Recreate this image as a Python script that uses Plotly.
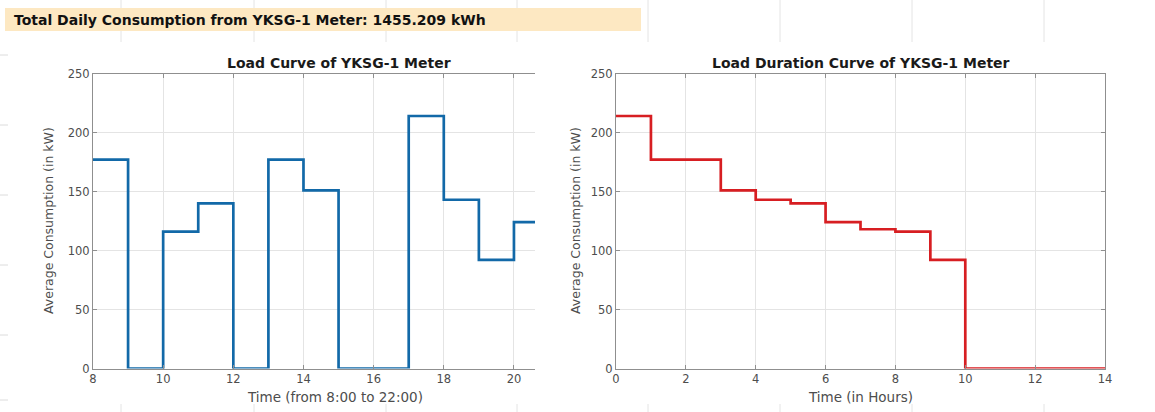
import plotly.graph_objects as go

# Hourly average demand of the YKSG-1 meter, 8:00 to 22:00 (kW)
hour_start = [8, 9, 10, 11, 12, 13, 14, 15, 16, 17, 18, 19, 20, 21]
load_kw = [177, 0, 116, 140, 0, 177, 151, 0, 0, 214, 143, 92, 124, 118]
total_kwh = 1455.209

# Duration curve: same hours, sorted from highest to lowest demand
duration_kw = sorted(load_kw, reverse=True)
duration_hours = list(range(len(duration_kw) + 1))

x_ticks_load = [8, 10, 12, 14, 16, 18, 20]
x_ticks_dur = [0, 2, 4, 6, 8, 10, 12, 14]
y_ticks = [0, 50, 100, 150, 200, 250]

W, H = 1155, 412
FONT = "DejaVu Sans, Verdana, sans-serif"
AXIS_GREY = "#4d4d4d"
BOX_GREY = "#8f8f8f"

# pixel geometry of the two axes boxes (left box is cut off on its right side)
L_X0, L_X1 = 93, 535
R_X0, R_X1 = 616, 1105
Y_TOP, Y_BOT = 73.5, 368.5
L_FULL_CENTER = 339   # centre of the full 8-22 h box, only part of which shows


def px_x(p):
    return p / W


def px_y(p):
    return 1 - p / H


fig = go.Figure()

# step traces: repeat the final value so the last hour gets its full width
fig.add_trace(go.Scatter(
    x=hour_start + [hour_start[-1] + 1], y=load_kw + [load_kw[-1]],
    mode="lines", line=dict(shape="hv", color="#1269A8", width=2.7),
    xaxis="x", yaxis="y", showlegend=False, hoverinfo="x+y"))

fig.add_trace(go.Scatter(
    x=duration_hours, y=duration_kw + [duration_kw[-1]],
    mode="lines", line=dict(shape="hv", color="#D71E22", width=2.7),
    xaxis="x2", yaxis="y2", showlegend=False, hoverinfo="x+y"))

axis_common = dict(
    showline=True, linecolor=BOX_GREY, linewidth=1,
    showgrid=True, gridcolor="#e4e4e4", gridwidth=1,
    ticks="inside", ticklen=4, tickcolor=BOX_GREY,
    tickfont=dict(family=FONT, size=11.5, color=AXIS_GREY),
    zeroline=False, fixedrange=True, automargin=False,
)

fig.update_layout(
    width=W, height=H, autosize=False,
    margin=dict(l=0, r=0, t=0, b=0, pad=0, autoexpand=False),
    paper_bgcolor="white", plot_bgcolor="white",
    font=dict(family=FONT),
    xaxis=dict(axis_common, domain=[px_x(L_X0), px_x(L_X1)], range=[8, 20.6],
               tickvals=x_ticks_load, anchor="y", mirror="ticks"),
    yaxis=dict(axis_common, domain=[px_y(Y_BOT), px_y(Y_TOP)], range=[0, 250],
               tickvals=y_ticks, anchor="x", mirror=False),
    xaxis2=dict(axis_common, domain=[px_x(R_X0), px_x(R_X1)], range=[0, 14],
                tickvals=x_ticks_dur, anchor="y2", mirror="ticks"),
    yaxis2=dict(axis_common, domain=[px_y(Y_BOT), px_y(Y_TOP)], range=[0, 250],
                tickvals=y_ticks, anchor="x2", mirror="ticks"),
)

shapes = []
# faint worksheet cell borders behind the charts
for xp in [121, 254, 386, 517, 648, 780, 912, 1044]:
    shapes.append(dict(type="line", xref="paper", yref="paper",
                       x0=px_x(xp), x1=px_x(xp), y0=px_y(0), y1=px_y(42),
                       line=dict(color="#e4e4e4", width=1), layer="below"))
    shapes.append(dict(type="line", xref="paper", yref="paper",
                       x0=px_x(xp), x1=px_x(xp), y0=px_y(404), y1=px_y(412),
                       line=dict(color="#e4e4e4", width=1), layer="below"))
for yp in [55, 125, 195, 265, 335, 400]:
    shapes.append(dict(type="line", xref="paper", yref="paper",
                       x0=0, x1=px_x(8), y0=px_y(yp), y1=px_y(yp),
                       line=dict(color="#dcdcdc", width=1), layer="below"))
# highlighted summary cell
shapes.append(dict(type="rect", xref="paper", yref="paper",
                   x0=px_x(5), x1=px_x(641), y0=px_y(31), y1=px_y(8),
                   fillcolor="#FDE8C2", line=dict(width=0), layer="below"))
fig.update_layout(shapes=shapes)

fig.add_annotation(
    xref="paper", yref="paper", x=px_x(12), y=px_y(20),
    xanchor="left", yanchor="middle", showarrow=False,
    text=f"<b>Total Daily Consumption from YKSG-1 Meter: {total_kwh:.3f} kWh</b>",
    font=dict(family=FONT, size=14, color="#111111"))

# chart titles
for title, xc in [("Load Curve of YKSG-1 Meter", L_FULL_CENTER),
                  ("Load Duration Curve of YKSG-1 Meter", (R_X0 + R_X1) / 2)]:
    fig.add_annotation(
        xref="paper", yref="paper", x=px_x(xc), y=px_y(63),
        xanchor="center", yanchor="middle", showarrow=False,
        text=f"<b>{title}</b>",
        font=dict(family=FONT, size=14, color="#1a1a1a"))

# axis titles
for label, xc in [("Time (from 8:00 to 22:00)", L_FULL_CENTER - 4),
                  ("Time (in Hours)", (R_X0 + R_X1) / 2)]:
    fig.add_annotation(
        xref="paper", yref="paper", x=px_x(xc), y=px_y(397),
        xanchor="center", yanchor="middle", showarrow=False,
        text=label, font=dict(family=FONT, size=13.5, color=AXIS_GREY))

for xc in [48, 575]:
    fig.add_annotation(
        xref="paper", yref="paper", x=px_x(xc), y=px_y((Y_TOP + Y_BOT) / 2),
        xanchor="center", yanchor="middle", showarrow=False, textangle=-90,
        text="Average Consumption (in kW)",
        font=dict(family=FONT, size=12.5, color=AXIS_GREY))

fig.write_html("out.html")
